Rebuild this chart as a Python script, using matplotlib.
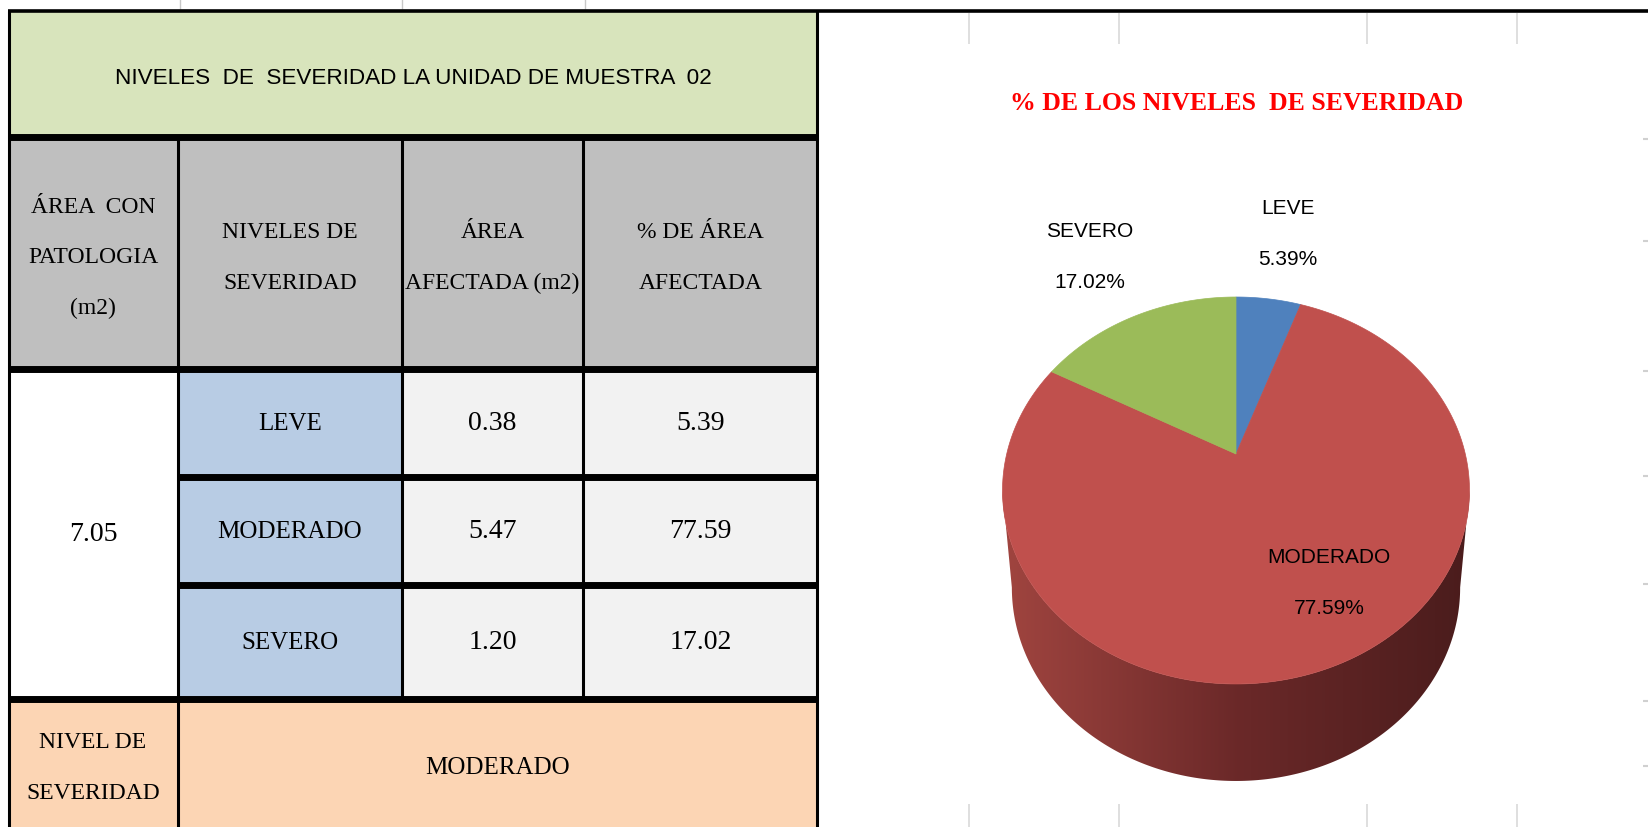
import numpy as np
import matplotlib
matplotlib.use('Agg')
import matplotlib.pyplot as plt
from matplotlib.patches import Rectangle, Polygon

# datos de la tabla
niveles = ['LEVE', 'MODERADO', 'SEVERO']
area_afectada = [0.38, 5.47, 1.20]
porcentaje = [5.39, 77.59, 17.02]
area_patologia = 7.05
nivel_final = 'MODERADO'

titulo_tabla = 'NIVELES  DE  SEVERIDAD LA UNIDAD DE MUESTRA  02'
titulo_pie = '% DE LOS NIVELES  DE SEVERIDAD'
encabezados = ['ÁREA  CON\nPATOLOGIA\n(m2)', 'NIVELES DE\nSEVERIDAD',
               'ÁREA\nAFECTADA (m2)', '% DE ÁREA\nAFECTADA']
etiqueta_final = 'NIVEL DE\nSEVERIDAD'
colores_pie = ['#4F81BD', '#C0504D', '#9BBB59']

W, H = 1648, 828
fig = plt.figure(figsize=(W / 100, H / 100), dpi=100)
ax = fig.add_axes([0, 0, 1, 1])

SERIF = ['Liberation Serif', 'DejaVu Serif']
SANS = ['Liberation Sans Narrow', 'Liberation Sans', 'DejaVu Sans']

# ---- tabla (coordenadas en pixeles) ----
col_x = [8, 178, 402, 583, 818]
row_y = [12, 138, 370, 478, 586, 700, 828]


def celda(x0, x1, y0, y1, color):
    ax.add_patch(Rectangle((x0, y0), x1 - x0, y1 - y0, facecolor=color,
                           edgecolor='none', zorder=1))


celda(col_x[0], col_x[4], row_y[0], row_y[1], '#D8E4BC')
celda(col_x[0], col_x[4], row_y[1], row_y[2], '#BFBFBF')
celda(col_x[0], col_x[1], row_y[2], row_y[5], 'white')
for i in range(3):
    celda(col_x[1], col_x[2], row_y[2 + i], row_y[3 + i], '#B8CCE4')
    celda(col_x[2], col_x[4], row_y[2 + i], row_y[3 + i], '#F2F2F2')
celda(col_x[0], col_x[4], row_y[5], row_y[6], '#FCD5B4')

thin, thick = 2.2, 5.0
ax.hlines(11.5, col_x[0], W, color='black', lw=2.6, zorder=3)
ax.vlines([col_x[0] + 1.5, col_x[4] - 1], row_y[0], H, color='black', lw=thin, zorder=3)
ax.hlines([row_y[1], row_y[2], row_y[5]], col_x[0], col_x[4], color='black', lw=thick, zorder=3)
ax.hlines([row_y[3], row_y[4]], col_x[1], col_x[4], color='black', lw=thick, zorder=3)
ax.vlines(col_x[1], row_y[1], H, color='black', lw=thin, zorder=3)
ax.vlines([col_x[2], col_x[3]], row_y[1], row_y[5], color='black', lw=thin, zorder=3)
# restos de la cuadricula de excel
ax.vlines([180, 402, 585], 0, 10, color='#C8C8C8', lw=1, zorder=2)

tx = [(col_x[i] + col_x[i + 1]) / 2 for i in range(4)]
ax.text((col_x[0] + col_x[4]) / 2, 78, titulo_tabla, family=SANS, fontsize=16.2,
        ha='center', va='center', zorder=4)
for i, enc in enumerate(encabezados):
    ax.text(tx[i], 258, enc, family=SERIF, fontsize=17,
            ha='center', va='center', linespacing=2.85, zorder=4)

fila_c = [(row_y[2 + i] + row_y[3 + i]) / 2 for i in range(3)]
for i in range(3):
    ax.text(tx[1], fila_c[i], niveles[i], family=SERIF, fontsize=18,
            ha='center', va='center', zorder=4)
    ax.text(tx[2], fila_c[i], f'{area_afectada[i]:.2f}', family=SERIF, fontsize=20,
            ha='center', va='center', zorder=4)
    ax.text(tx[3], fila_c[i], f'{porcentaje[i]:.2f}', family=SERIF, fontsize=20,
            ha='center', va='center', zorder=4)
ax.text(tx[0], (row_y[2] + row_y[5]) / 2, f'{area_patologia:.2f}', family=SERIF,
        fontsize=20, ha='center', va='center', zorder=4)
ax.text(tx[0], 768, etiqueta_final, family=SERIF, fontsize=17, ha='center',
        va='center', linespacing=2.85, zorder=4)
ax.text((col_x[1] + col_x[4]) / 2, 768, nivel_final, family=SERIF, fontsize=18,
        ha='center', va='center', zorder=4)

# ---- grafico circular 3D ----
ax.vlines([969, 1119, 1367, 1517], 14, 45, color='#D9D9D9', lw=1.2, zorder=0)
ax.vlines([969, 1119, 1367, 1517], 805, H, color='#D9D9D9', lw=1.2, zorder=0)
ax.hlines([140, 242, 372, 477, 585, 702, 767], W - 5, W, color='#D0D0D0', lw=1.5, zorder=0)

ax.text(1237, 104, titulo_pie, family=SERIF, fontsize=18.5, fontweight='bold',
        color='#FF0000', ha='center', va='center')

cx, cy = 1236, 455
R, S, k = 229.3, 186.6, 0.1886
prof, esc_base = 97, 0.96


def proy(theta, dy=0.0, sx=1.0):
    u, v = np.sin(theta), np.cos(theta)
    w = 1 + k * v
    return cx + sx * R * u / w, cy - S * v / w + dy


# lado (cara lateral con degradado)
th = np.linspace(0, 2 * np.pi, 2000)
xs, _ = proy(th)
th_der, th_izq = th[np.argmax(xs)], th[np.argmin(xs)]
arco = np.linspace(th_der, th_izq, 400)
xt, yt = proy(arco)
xb, yb = proy(arco[::-1], dy=prof, sx=esc_base)
lado = Polygon(np.column_stack([np.r_[xt, xb], np.r_[yt, yb]]), closed=True,
               facecolor='none', edgecolor='none')
ax.add_patch(lado)
paradas = [0, 0.5, 1]
c_izq, c_med, c_der = (0.63, 0.27, 0.25), (0.42, 0.16, 0.16), (0.29, 0.11, 0.11)
t = np.linspace(0, 1, 256)
grad = np.stack([np.interp(t, paradas, [c_izq[j], c_med[j], c_der[j]]) for j in range(3)], axis=-1)
x0, x1 = xt.min() - 2, xt.max() + 2
img = ax.imshow(grad[np.newaxis, :, :], extent=(x0, x1, yb.max() + 2, yt.min()),
                aspect='auto', zorder=1, interpolation='bilinear')
img.set_clip_path(lado)

# cara superior
frac = np.array(porcentaje) / np.sum(porcentaje)
bordes = np.r_[0, np.cumsum(frac)] * 2 * np.pi
for i in range(len(porcentaje)):
    a = np.linspace(bordes[i], bordes[i + 1], 300)
    px, py = proy(a)
    ax.add_patch(Polygon(np.column_stack([np.r_[cx, px], np.r_[cy, py]]), closed=True,
                         facecolor=colores_pie[i], edgecolor=colores_pie[i], lw=0.5, zorder=2))

pos_etq = [(1288, 234), (1329, 583), (1090, 257)]
for i in range(len(niveles)):
    ax.text(pos_etq[i][0], pos_etq[i][1], f'{niveles[i]}\n{porcentaje[i]:.2f}%',
            family=SANS, fontsize=15, ha='center', va='center', linespacing=3.1, zorder=5)

ax.set_xlim(0, W)
ax.set_ylim(H, 0)
ax.axis('off')
fig.savefig('out.png', dpi=100)
